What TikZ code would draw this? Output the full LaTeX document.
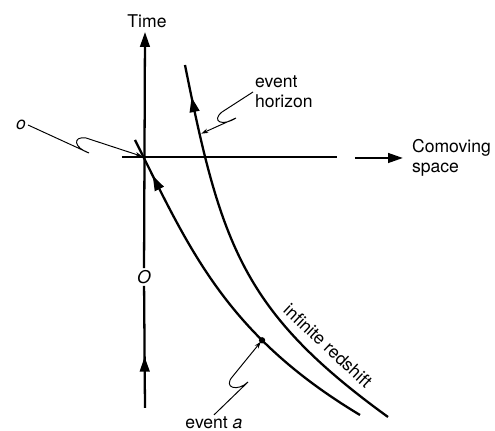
\documentclass[tikz,border=0pt]{standalone}
\usepackage{fontspec}
\setmainfont{TeX Gyre Heros}
\usetikzlibrary{arrows.meta,decorations.markings}
\tikzset{
  axis/.style={line width=1.3pt},
  world/.style={line width=1.3pt},
  tip/.style={-{Triangle[length=8.5pt,width=5.5pt]}},
  leader/.style={line width=0.55pt,-{Stealth[length=4pt,width=2.6pt]},shorten >=1pt},
  midarrow/.style={postaction={decorate},decoration={markings,
      mark=at position #1 with {\arrow{Triangle[length=8.5pt,width=5.5pt]}}}},
  lbl/.style={font=\fontsize{10}{11.5}\selectfont,inner sep=1pt}
}
\begin{document}
\begin{tikzpicture}[x=0.02cm,y=-0.02cm]
    \useasboundingbox (0,0) rectangle (495,431);
    \coordinate (origin) at (144,157);
    \coordinate (ttop) at (145,32);
    \coordinate (tbot) at (145,408);
    \coordinate (xleft) at (122,157);
    \coordinate (xright) at (337,157);
    \coordinate (sstart) at (355,158);
    % labels
    \node[lbl] (time) at (147,21) {Time};
    \node[lbl] (O) at (144,277) {\textit{O}};
    \node[lbl,anchor=west,align=left] (space) at (410,158) {Comoving\\space};
    \node[lbl,anchor=west,align=left] (horizon) at (253,92) {event\\horizon};
    \node[lbl] (olabel) at (21,125) {\textit{o}};
    \node[lbl] (evlabel) at (214,423) {event \textit{a}};
    \node[lbl,rotate=-43] (redshift) at (328,346) {infinite redshift};
    % axes
    \draw[axis,tip] (O) -- (ttop);
    \draw[axis,midarrow=0.42] (tbot) -- (O);
    \draw[axis] (xleft) -- (xright);
    \draw[axis,tip,shorten >=4pt] (sstart) -- (space.west);
    % world lines
    \draw[world,midarrow=0.89] (360,415) .. controls (225,334) and (189,248) .. coordinate[pos=0.3] (eventa) (135,140);
    \draw[world,midarrow=0.922] (388,417) .. controls (243,312) and (221,245) .. coordinate[pos=0.86] (hz) (185,65);
    \fill (eventa) circle[radius=1.8pt];
    % leaders
    \draw[leader] (olabel.east) -- (89,153) .. controls (74,148) and (72,136) .. (86,138) -- (origin);
    \draw[leader] (horizon.west) -- (222,112) .. controls (211,121) and (222,127) .. (236,118) -- (hz);
    \draw[leader] (evlabel.north) -- (248,382) .. controls (238,392) and (222,388) .. (233,376) -- (eventa);
\end{tikzpicture}
\end{document}
